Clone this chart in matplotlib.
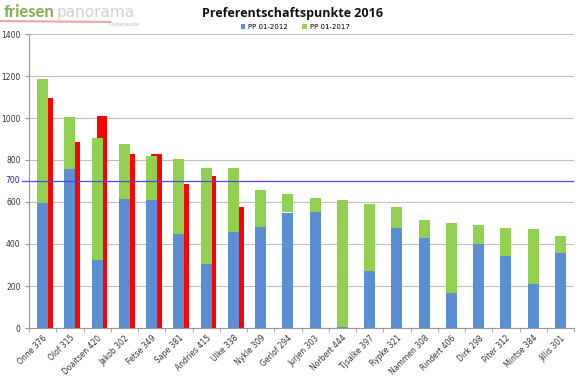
import matplotlib
matplotlib.use("Agg")
import matplotlib.pyplot as plt
import numpy as np

names = ["Onne 376", "Olof 315", "Doaitsen 420", "Jakob 302", "Fetse 349", "Sape 381",
         "Andries 415", "Ulke 338", "Nykle 309", "Gerlof 294", "Jurjen 303", "Norbert 444",
         "Tjsalke 397", "Rypke 321", "Nammen 308", "Rindert 406", "Dirk 298", "Piter 312",
         "Mintse 384", "Jillis 301"]
pp2012 = [594, 757, 324, 614, 611, 449, 303, 459, 482, 550, 554, 6,
          273, 478, 430, 168, 398, 343, 211, 359]
pp2017_total = [1184, 1006, 906, 875, 821, 805, 760, 760, 657, 636, 620, 611,
                589, 576, 514, 500, 490, 478, 470, 440]
red_vals = [1094, 887, 1010, 827, 827, 687, 722, 575]
threshold = 700
yticks = [0, 200, 400, 600, 800, 1000, 1200, 1400]

pp2017 = [t - b for t, b in zip(pp2017_total, pp2012)]

W, H = 584, 378
fig = plt.figure(figsize=(W / 100, H / 100), dpi=100)
ax = fig.add_axes([29 / W, 1 - 328 / H, (574 - 29) / W, (328 - 34) / H])

x = np.arange(len(names))
bw = 0.40
blue = "#5a8fd4"
green = "#92d050"
red = "#ff0000"

ax.bar(x[:len(red_vals)] + 0.18, red_vals, width=bw, color=red, zorder=2)
ax.bar(x, pp2012, width=bw, color=blue, zorder=3, label="PP 01-2012")
ax.bar(x, pp2017, width=bw, bottom=pp2012, color=green, zorder=3, label="PP 01-2017")
ax.axhline(threshold, color="#4a4af0", lw=0.9, zorder=4)

ax.set_xlim(-0.5, len(names) - 0.5)
ax.set_ylim(0, 1400)
ax.set_yticks(yticks)
ax.set_yticklabels([str(v) for v in yticks], fontsize=5.5, color="#333333")
ax.yaxis.grid(True, color="#bfbfbf", lw=0.8, zorder=0)
ax.set_axisbelow(True)
ax.tick_params(axis="y", length=3, color="#999999", pad=3)
ax.text(-0.017, threshold, "700", transform=ax.get_yaxis_transform(), ha="right", va="center",
        fontsize=5.5, color="#2020d0")
ax.plot([-0.012, 0], [threshold, threshold], transform=ax.get_yaxis_transform(),
        color="#4a4af0", lw=0.9, clip_on=False)

ax.set_xticks(x)
ax.set_xticklabels(names, rotation=45, ha="right", rotation_mode="anchor", fontsize=5.5,
                   color="#333333")
ax.set_xticks(np.arange(-0.5, len(names)), minor=True)
ax.tick_params(axis="x", which="major", length=0, pad=4)
ax.tick_params(axis="x", which="minor", length=3, color="#999999")

for s in ["top", "right"]:
    ax.spines[s].set_visible(False)
ax.spines["left"].set_color("#999999")
ax.spines["bottom"].set_color("#999999")

fig.text(293 / W, 1 - 14 / H, "Preferentschaftspunkte 2016", ha="center", va="center",
         fontsize=9, fontweight="bold", family="Open Sans", color="#111111")
leg = ax.legend(loc="center", bbox_to_anchor=(295 / W, 1 - 27 / H), bbox_transform=fig.transFigure,
                ncol=2, frameon=False, fontsize=5, handlelength=0.7, handleheight=0.7,
                columnspacing=2.0, handletextpad=0.4)

# logo
fig.text(4 / W, 1 - 12 / H, "friesen", ha="left", va="center", fontsize=12, fontweight="bold",
         color="#7fb04a", family="Lato")
fig.text(57 / W, 1 - 12 / H, "panorama", ha="left", va="center", fontsize=11, color="#d0d0d0",
         family="DejaVu Sans")
fig.text(140 / W, 1 - 25 / H, "Oosterwolde", ha="right", va="center", fontsize=3.5, color="#bbbbbb")
fig.add_artist(plt.Line2D([0, 110 / W], [1 - 21 / H, 1 - 22 / H], color="#e08080", lw=1.5,
                          alpha=0.7, transform=fig.transFigure))

fig.savefig("out.png", dpi=100)
